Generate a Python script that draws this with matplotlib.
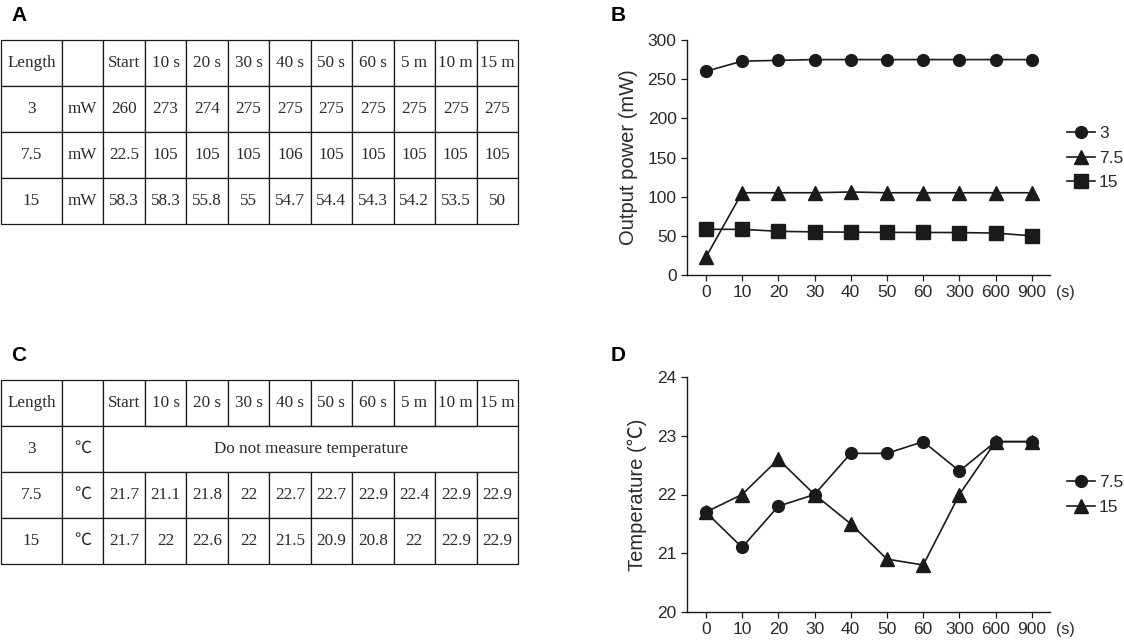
import matplotlib
matplotlib.use("Agg")
import matplotlib.pyplot as plt

# table headers / rows
time_cols = ["Start", "10 s", "20 s", "30 s", "40 s", "50 s", "60 s", "5 m", "10 m", "15 m"]
lengths = ["3", "7.5", "15"]

# output power (mW)
power_3 = [260, 273, 274, 275, 275, 275, 275, 275, 275, 275]
power_75 = [22.5, 105, 105, 105, 106, 105, 105, 105, 105, 105]
power_15 = [58.3, 58.3, 55.8, 55, 54.7, 54.4, 54.3, 54.2, 53.5, 50]

# temperature (C)
temp_75 = [21.7, 21.1, 21.8, 22, 22.7, 22.7, 22.9, 22.4, 22.9, 22.9]
temp_15 = [21.7, 22, 22.6, 22, 21.5, 20.9, 20.8, 22, 22.9, 22.9]
no_temp_note = "Do not measure temperature"

time_ticks = ["0", "10", "20", "30", "40", "50", "60", "300", "600", "900"]

serif = ["Liberation Serif", "Noto Sans CJK JP"]
sans = ["Liberation Sans", "Noto Sans CJK JP"]
plt.rcParams["font.family"] = sans

LINE = "#1a1a1a"
TXT = "#2a2a2a"

fig = plt.figure(figsize=(11.24, 6.4), dpi=100)

col_w = [61] + [41.5] * 11
tot = sum(col_w)
col_w = [w / tot for w in col_w]


def fmt(v):
    return f"{v:g}"


def draw_table(rect, unit, rows, merged=None):
    ax = fig.add_axes(rect)
    ax.axis("off")
    cell_text = [["Length", ""] + time_cols]
    for ln, vals in zip(lengths, rows):
        if vals is None:
            cell_text.append([ln, unit] + [""] * len(time_cols))
        else:
            cell_text.append([ln, unit] + [fmt(v) for v in vals])
    tbl = ax.table(cellText=cell_text, colWidths=col_w, cellLoc="center",
                   bbox=[0, 0, 1, 1])
    tbl.auto_set_font_size(False)
    tbl.set_fontsize(12.3)
    for (r, c), cell in tbl.get_celld().items():
        cell.set_linewidth(0.9)
        cell.set_edgecolor(LINE)
        cell.get_text().set_fontfamily(serif)
        cell.get_text().set_color(TXT)
    if merged is not None:
        r = merged
        ncol = len(col_w)
        for c in range(2, ncol):
            cell = tbl[r, c]
            if c == 2:
                cell.visible_edges = "BTL"
            elif c == ncol - 1:
                cell.visible_edges = "BTR"
            else:
                cell.visible_edges = "BT"
        x0 = col_w[0] + col_w[1]
        ax.text((x0 + 1) / 2, 1 - (r + 0.5) / 4, no_temp_note, ha="center",
                va="center", fontsize=12.3, family=serif, color=TXT)
    return ax


W, H = 1124, 640


def frac(x0, y0, x1, y1):
    return [x0 / W, 1 - y1 / H, (x1 - x0) / W, (y1 - y0) / H]


draw_table(frac(1, 40, 518, 224), "mW", [power_3, power_75, power_15])
draw_table(frac(1, 380, 518, 564), "\u2103", [None, temp_75, temp_15], merged=1)


def style_axis(ax, ylabel, yticks):
    for s in ["top", "right"]:
        ax.spines[s].set_visible(False)
    for s in ["left", "bottom"]:
        ax.spines[s].set_linewidth(1.0)
        ax.spines[s].set_color(LINE)
    ax.set_xticks(range(len(time_ticks)))
    ax.set_xticklabels(time_ticks)
    ax.set_yticks(yticks)
    ax.set_xlim(-0.52, 9.5)
    ax.set_ylim(yticks[0], yticks[-1])
    ax.tick_params(labelsize=12.5, colors=LINE, labelcolor=TXT, length=4, width=0.9)
    ax.set_ylabel(ylabel, fontsize=14.5, color=TXT, labelpad=7)
    ax.annotate("(s)", xy=(9.5, 0), xycoords=("data", "axes fraction"),
                xytext=(4.5, -7.5), textcoords="offset points", ha="left", va="top",
                fontsize=11.5, color=TXT)


def add_legend(ax, ycenter):
    ax.legend(loc="center left", bbox_to_anchor=(1.027, ycenter), frameon=False,
              fontsize=12.5, handlelength=1.65, handletextpad=0.2, labelspacing=0.55,
              borderaxespad=0, labelcolor=TXT)


x = list(range(len(time_ticks)))
mk = dict(color=LINE, linewidth=1.2)

axB = fig.add_axes(frac(687, 40, 1050, 275))
axB.plot(x, power_3, marker="o", markersize=8.5, label="3", **mk)
axB.plot(x, power_75, marker="^", markersize=9.5, label="7.5", **mk)
axB.plot(x, power_15, marker="s", markersize=10, label="15", **mk)
style_axis(axB, "Output power (mW)", [0, 50, 100, 150, 200, 250, 300])
add_legend(axB, 0.497)

axD = fig.add_axes(frac(687, 377, 1050, 612))
axD.plot(x, temp_75, marker="o", markersize=8.5, label="7.5", **mk)
axD.plot(x, temp_15, marker="^", markersize=9.5, label="15", **mk)
style_axis(axD, "Temperature (\u2103)", [20, 21, 22, 23, 24])
add_legend(axD, 0.497)

for lbl, px, py in [("A", 11, 6), ("B", 611, 6), ("C", 11, 346), ("D", 611, 346)]:
    fig.text(px / W, 1 - py / H, lbl, ha="left", va="top", fontsize=15,
             fontweight="bold", family="Liberation Sans")

fig.savefig("out.png", dpi=100)
